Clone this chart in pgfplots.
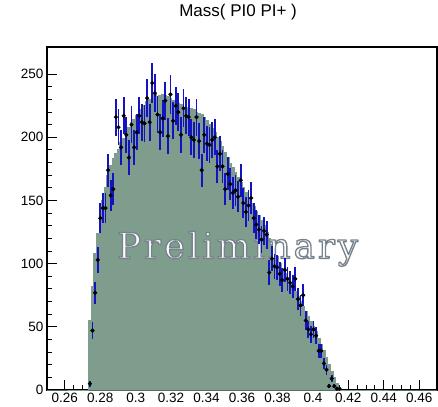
\documentclass[border=0pt]{standalone}
\usepackage{pgfplots}
\pgfplotsset{compat=1.18}
\usepackage{pgfplotstable}
\usepackage{fontspec}
\setmainfont{Liberation Sans}
\newfontfamily\wmfont[LetterSpace=8.5]{DejaVu Serif}

\definecolor{histfill}{RGB}{126,157,140}
\definecolor{errblue}{RGB}{20,20,190}

% outlined text: white fill, grey stroke (PDF text render mode 2)
\newcommand\outlined[1]{%
  \special{pdf:literal direct 1 j 0.47 0.51 0.55 RG 1.3 w 2 Tr}#1%
  \special{pdf:literal direct 0 Tr}}

% data: 150 bins on [0.25,0.47]; bin index and entries
\pgfplotstableread{
bin n
16 5
17 47
18 77
19 103
20 136
21 144
22 144
23 174
24 154
25 159
26 216
27 208
28 192
29 217
30 202
31 184
32 210
33 192
34 204
35 217
36 212
37 211
38 231
39 212
40 243
41 235
42 218
43 204
44 215
45 229
46 201
47 234
48 213
49 225
50 220
51 202
52 223
53 217
54 216
55 200
56 198
57 216
58 197
59 174
60 202
61 195
62 194
63 198
64 200
65 177
66 187
67 177
68 159
69 171
70 163
71 156
72 158
73 153
74 166
75 148
76 141
77 146
78 152
79 136
80 131
81 127
82 119
83 126
84 123
85 93
86 104
87 98
88 97
89 92
90 87
91 95
92 88
93 85
94 82
95 88
96 72
97 67
98 75
99 55
100 48
101 44
102 48
103 43
104 31
105 31
106 21
107 16
108 3
109 9
110 3
111 1
112 1
}\datatab

% simulated shape, same binning (lower bin edge, content)
\pgfplotstableread{
bin n
0 0
16 55
17 82
18 108
19 124
20 138
21 150
22 160
23 170
24 178
25 183
26 187
27 190
28 196
29 199
30 204
31 208
32 212
33 214
34 217
35 220
36 222
37 225
38 228
39 230
40 233
41 234
42 232
43 233
44 234
45 233
46 232
47 231
48 229
49 228
50 227
51 226
52 224
53 224
54 223
55 223
56 222
57 220
58 219
59 218
60 216
61 213
62 210
63 207
64 204
65 200
66 197
67 193
68 188
69 184
70 179
71 176
72 172
73 168
74 164
75 160
76 156
77 152
78 148
79 145
80 141
81 138
82 134
83 130
84 125
85 120
86 115
87 110
88 105
89 100
90 96
91 92
92 88
93 85
94 81
95 78
96 74
97 70
98 66
99 62
100 58
101 54
102 50
103 46
104 41
105 36
106 31
107 26
108 20
109 15
110 10
111 5
112 2
113 0
150 0
}\mctab

\begin{document}
\begin{tikzpicture}
\begin{axis}[
  name=ax,
  scale only axis, width=390pt, height=343pt,
  xmin=0.25, xmax=0.47, ymin=0, ymax=271.5,
  xtick={0.26,0.28,0.30,0.32,0.34,0.36,0.38,0.40,0.42,0.44,0.46},
  ytick={0,50,100,150,200,250},
  minor x tick num=3, minor y tick num=4,
  tick align=inside, tick pos=left,
  major tick length=10pt, minor tick length=5pt,
  axis line style={line width=1.5pt},
  tick style={line width=1pt, black},
  ticklabel style={font=\fontsize{13.5}{15}\selectfont},
  /pgf/number format/assume math mode=true,
  xticklabel style={/pgf/number format/fixed, /pgf/number format/precision=2},
  scaled x ticks=false,
  title={Mass( PI0 PI+ )},
  title style={font=\fontsize{17}{20}\selectfont, at={(0.49,1)}, anchor=center, yshift=29pt},
]
\addplot[const plot mark left, fill=histfill, draw=histfill, line width=1pt]
  table[x expr={0.25+\thisrow{bin}*0.22/150}, y=n] {\mctab} \closedcycle;

% watermark
\node[anchor=base, text=white, font=\wmfont\fontsize{35.5}{40}\selectfont]
  at (axis cs:0.3575,104.2) {\outlined{Preliminary}};

\addplot[only marks, mark=*, mark size=1.9pt, black,
  error bars/.cd, y dir=both, y explicit,
  error bar style={line width=1.7pt, errblue}, error mark=none]
  table[x expr={0.25+(\thisrow{bin}+0.5)*0.22/150}, y=n, y error expr={sqrt(\thisrow{n})}] {\datatab};
\end{axis}
\pgfresetboundingbox
\path[use as bounding box] ([shift={(-47pt,-16pt)}]ax.south west) rectangle ([shift={(1pt,47pt)}]ax.north east);
\end{tikzpicture}
\end{document}
